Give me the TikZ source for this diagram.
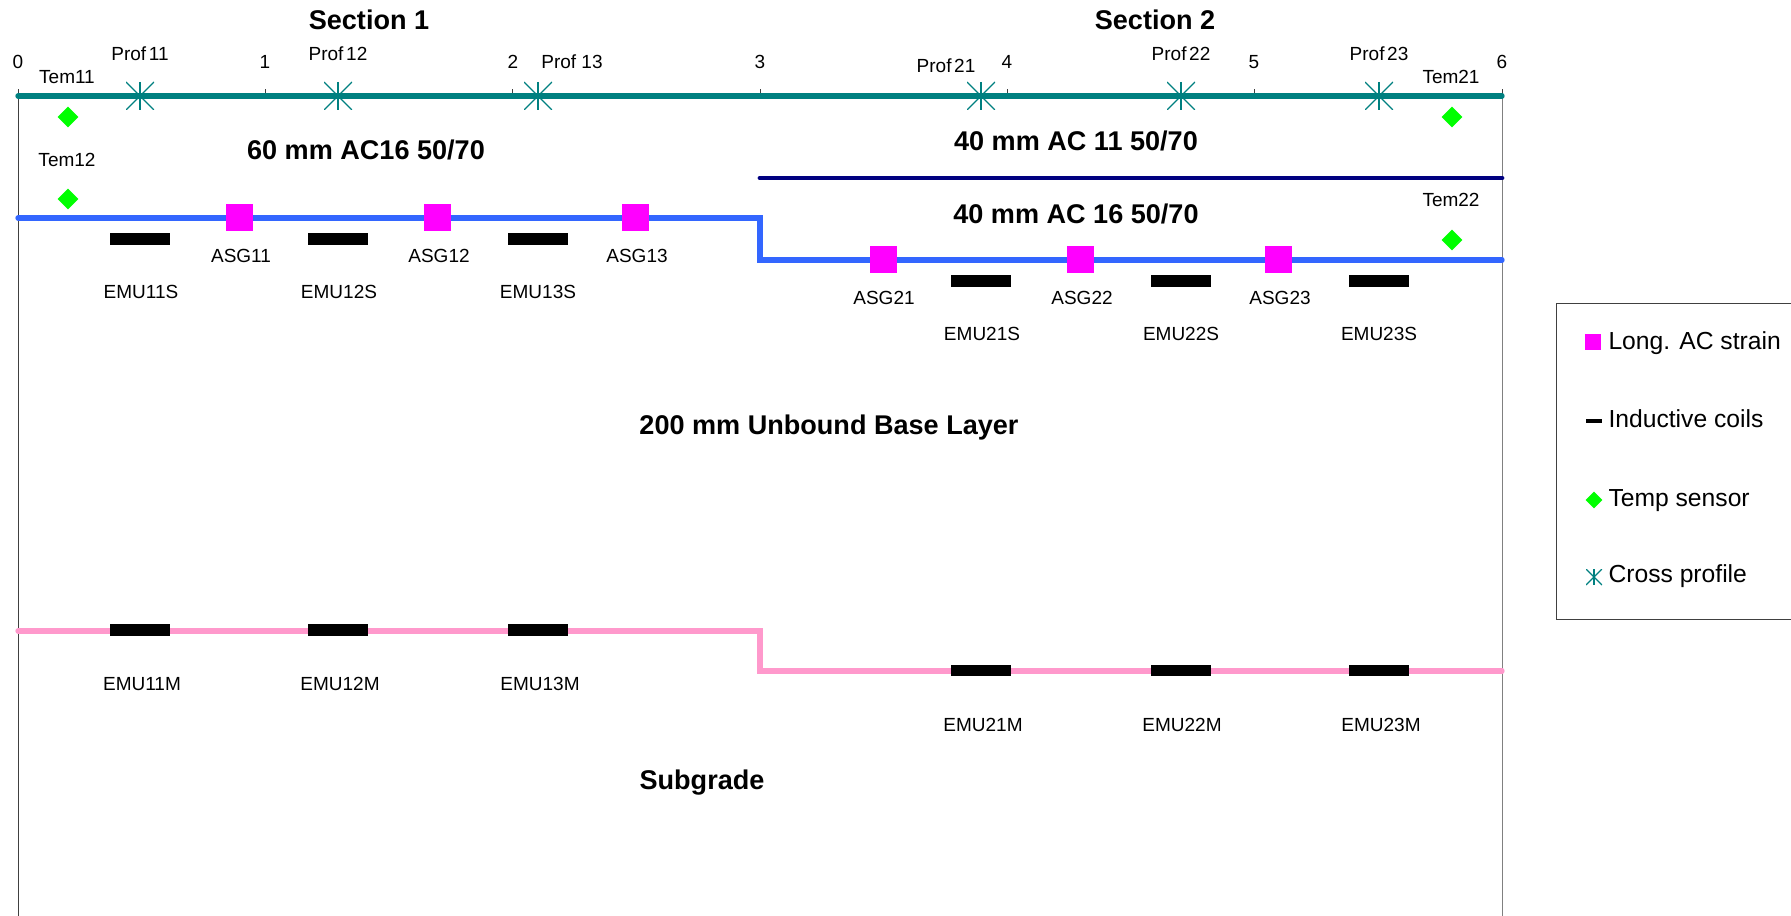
\documentclass[tikz,border=0pt]{standalone}
\usepackage{fontspec}
\setmainfont{Liberation Sans}
\usetikzlibrary{shapes.geometric}

\tikzset{every picture/.style={line width=0.75pt}}
\definecolor{surfteal}{RGB}{0,128,128}
\definecolor{layernavy}{RGB}{0,0,128}
\definecolor{layerblue}{RGB}{51,102,255}
\definecolor{layerpink}{RGB}{255,153,204}
\definecolor{sensorgreen}{RGB}{0,255,0}
\definecolor{asgmagenta}{RGB}{255,0,255}
\tikzset{
	lab/.style={font=\fontsize{14.25}{16}\selectfont, inner sep=0pt},
	headlab/.style={font=\fontsize{20.3}{22}\selectfont\bfseries, inner sep=0pt},
	keylab/.style={font=\fontsize{18.5}{21}\selectfont, inner sep=0pt, anchor=west},
	layerline/.style={line width=4pt, line cap=round, line join=miter},
	axisline/.style={line width=0.75pt, draw=black!75},
	asg/.style={fill=asgmagenta, inner sep=0pt, minimum size=20.25pt},
	emu/.style={fill=black, inner sep=0pt, minimum width=45pt, minimum height=8.7pt},
	tem/.style={diamond, fill=sensorgreen, inner sep=0pt, minimum size=16pt},
	prof/.style={inner sep=0pt, minimum size=21pt, path picture={
		\draw[surfteal, line width=1pt] (path picture bounding box.north west) -- (path picture bounding box.south east);
		\draw[surfteal, line width=1pt] (path picture bounding box.south west) -- (path picture bounding box.north east);
		\draw[surfteal, line width=1pt] (path picture bounding box.north) -- (path picture bounding box.south);
	}}
}

\begin{document}
\begin{tikzpicture}[x=0.75pt,y=0.75pt,yscale=-1,xscale=1]
	\useasboundingbox (0,0) rectangle (1791,916);

	%Axis ends and ticks
	\coordinate (t0) at (18,96);
	\coordinate (t1) at (265.3,96);
	\coordinate (t2) at (512.7,96);
	\coordinate (t3) at (760,96);
	\coordinate (t4) at (1007,96);
	\coordinate (t5) at (1254.6,96);
	\coordinate (t6) at (1502,96);
	\coordinate (botL) at (18,916);
	\coordinate (botR) at (1502,916);
	\draw [axisline] (t0) -- (botL);
	\draw [axisline, draw=black!50] (t6) -- (botR);
	\draw [axisline] (t0) -- ++(0,-7);
	\draw [axisline] (t1) -- ++(0,-7);
	\draw [axisline] (t2) -- ++(0,-7);
	\draw [axisline] (t3) -- ++(0,-7);
	\draw [axisline] (t4) -- ++(0,-7);
	\draw [axisline] (t5) -- ++(0,-7);
	\draw [axisline] (t6) -- ++(0,-7);

	%Layer lines
	\coordinate (navyL) at (760,178);
	\coordinate (navyR) at (1502,178);
	\coordinate (blueL) at (18,218);
	\coordinate (blueK) at (760,218);
	\coordinate (blueM) at (760,260);
	\coordinate (blueR) at (1502,260);
	\coordinate (pinkL) at (18,631);
	\coordinate (pinkK) at (760,631);
	\coordinate (pinkM) at (760,671);
	\coordinate (pinkR) at (1502,671);
	\draw [layerline, draw=surfteal] (t0) -- (t6);
	\draw [layerline, draw=layernavy, line width=3.6pt] (navyL) -- (navyR);
	\draw [layerline, draw=layerblue] (blueL) -- (blueK) -- (blueM) -- (blueR);
	\draw [layerline, draw=layerpink] (pinkL) -- (pinkK) -- (pinkM) -- (pinkR);

	% Cross profiles
	\node [prof] (prof11) at (140,96) {};
	\node [prof] (prof12) at (338,96) {};
	\node [prof] (prof13) at (538,96) {};
	\node [prof] (prof21) at (981,96) {};
	\node [prof] (prof22) at (1181,96) {};
	\node [prof] (prof23) at (1379,96) {};

	% Temp sensors
	\node [tem] (tem11) at (68,117) {};
	\node [tem] (tem12) at (68,199) {};
	\node [tem] (tem21) at (1452,117) {};
	\node [tem] (tem22) at (1452,240) {};

	% Strain gauges
	\node [asg] (asg11) at (239,218) {};
	\node [asg] (asg12) at (437,218) {};
	\node [asg] (asg13) at (635,218) {};
	\node [asg] (asg21) at (883,260) {};
	\node [asg] (asg22) at (1080,260) {};
	\node [asg] (asg23) at (1278,260) {};

	% Inductive coils
	\node [emu] (emu11s) at (140,239) {};
	\node [emu] (emu12s) at (338,239) {};
	\node [emu] (emu13s) at (538,239) {};
	\node [emu] (emu21s) at (981,281) {};
	\node [emu] (emu22s) at (1181,281) {};
	\node [emu] (emu23s) at (1379,281) {};
	\node [emu] (emu11m) at (140,630) {};
	\node [emu] (emu12m) at (338,630) {};
	\node [emu] (emu13m) at (538,630) {};
	\node [emu] (emu21m) at (981,670.5) {};
	\node [emu] (emu22m) at (1181,670.5) {};
	\node [emu] (emu23m) at (1379,670.5) {};

	% Text Node
	\node [headlab] (sec1) at (369,20) {Section 1};
	\node [headlab] (sec2) at (1155,20) {Section 2};
	\node [headlab] (ac60) at (366,150) {60 mm AC16 50/70};
	\node [headlab] (ac40a) at (1076,141) {40 mm AC 11 50/70};
	\node [headlab] (ac40b) at (1076,214) {40 mm AC 16 50/70};
	\node [headlab] (base) at (829,427) {200 mm Unbound Base Layer};
	\node [headlab] (subg) at (702,783) {Subgrade};

	% Text Node
	\node [lab] (n0) at (18,62) {0};
	\node [lab] (n1) at (265,62) {1};
	\node [lab] (n2) at (513,62) {2};
	\node [lab] (n3) at (760,62) {3};
	\node [lab] (n4) at (1007,62) {4};
	\node [lab] (n5) at (1254,62) {5};
	\node [lab] (n6) at (1502,62) {6};

	% Text Node
	\node [lab] (lprof11) at (140,54) {Prof\kern2pt 11};
	\node [lab] (lprof12) at (338,54) {Prof\kern2pt 12};
	\node [lab] (lprof13) at (572,62) {Prof 13};
	\node [lab] (lprof21) at (946,66) {Prof\kern2pt 21};
	\node [lab] (lprof22) at (1181,54) {Prof\kern2pt 22};
	\node [lab] (lprof23) at (1379,54) {Prof\kern2pt 23};
	\node [lab] (ltem11) at (67,77) {Tem11};
	\node [lab] (ltem12) at (67,160) {Tem12};
	\node [lab] (ltem21) at (1451,77) {Tem21};
	\node [lab] (ltem22) at (1451,200) {Tem22};

	% Text Node
	\node [lab] (lasg11) at (241,256) {ASG11};
	\node [lab] (lasg12) at (439,256) {ASG12};
	\node [lab] (lasg13) at (637,256) {ASG13};
	\node [lab] (lasg21) at (884,298) {ASG21};
	\node [lab] (lasg22) at (1082,298) {ASG22};
	\node [lab] (lasg23) at (1280,298) {ASG23};

	% Text Node
	\node [lab] (lemu11s) at (141,292) {EMU11S};
	\node [lab] (lemu12s) at (339,292) {EMU12S};
	\node [lab] (lemu13s) at (538,292) {EMU13S};
	\node [lab] (lemu21s) at (982,334) {EMU21S};
	\node [lab] (lemu22s) at (1181,334) {EMU22S};
	\node [lab] (lemu23s) at (1379,334) {EMU23S};
	\node [lab] (lemu11m) at (142,684) {EMU11M};
	\node [lab] (lemu12m) at (340,684) {EMU12M};
	\node [lab] (lemu13m) at (540,684) {EMU13M};
	\node [lab] (lemu21m) at (983,725) {EMU21M};
	\node [lab] (lemu22m) at (1182,725) {EMU22M};
	\node [lab] (lemu23m) at (1381,725) {EMU23M};

	%Legend
	\coordinate (keyTR) at (1791,303);
	\coordinate (keyTL) at (1556,303);
	\coordinate (keyBL) at (1556,619);
	\coordinate (keyBR) at (1791,619);
	\draw [axisline] (keyTR) -- (keyTL) -- (keyBL) -- (keyBR);
	\node [asg, minimum size=11.5pt] (keyasg) at (1593,342) {};
	\node [emu, minimum width=12pt, minimum height=2.6pt] (keyemu) at (1594,421) {};
	\node [tem, minimum size=13pt] (keytem) at (1594,500) {};
	\node [prof, minimum size=12pt] (keyprof) at (1594,577) {};
	\node [keylab] (lkeyasg) at (1608,343) {Long. AC strain};
	\node [keylab] (lkeyemu) at (1608,419) {Inductive coils};
	\node [keylab] (lkeytem) at (1608,501) {Temp sensor};
	\node [keylab] (lkeyprof) at (1608,576) {Cross profile};
\end{tikzpicture}
\end{document}
